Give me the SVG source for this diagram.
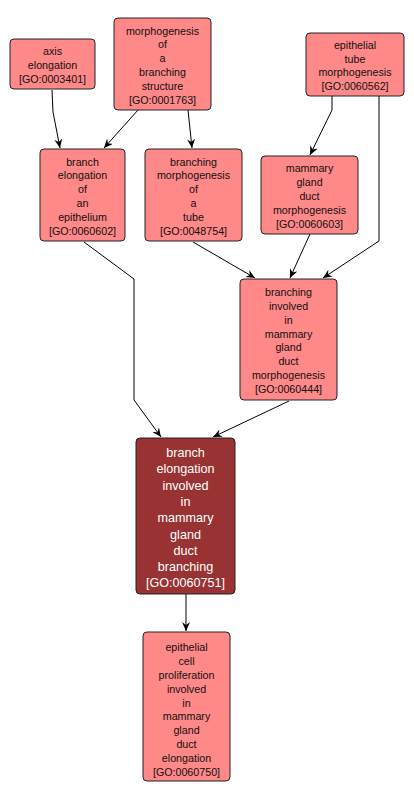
<svg xmlns="http://www.w3.org/2000/svg" width="414" height="801" viewBox="0 0 414 801">
<style>
.n{fill:#ff8888;stroke:#222;stroke-width:1}
.h{fill:#993333;stroke:#222;stroke-width:1}
.t{font-family:"Liberation Sans",Arial,sans-serif;font-size:10.7px;fill:#111;text-anchor:middle}
.tw{font-family:"Liberation Sans",Arial,sans-serif;font-size:12.6px;fill:#fff;text-anchor:middle}
.e{fill:none;stroke:#000;stroke-width:1;marker-end:url(#a)}
</style>
<defs>
<marker id="a" markerWidth="10" markerHeight="8" refX="9" refY="4" orient="auto" markerUnits="userSpaceOnUse">
<path d="M0,0 L9,4 L0,8 L3,4 z" fill="#000"/>
</marker>
</defs>
<rect width="414" height="801" fill="#fff"/>
<g id="edges">
<path class="e" d="M52,90 L53,112 L60,148"/>
<path class="e" d="M138,110 L104,148"/>
<path class="e" d="M188,110 L192,148"/>
<path class="e" d="M332,96 L332,110 L310,155"/>
<path class="e" d="M379,96 L379,241 L323,278"/>
<path class="e" d="M310,234 L290,278"/>
<path class="e" d="M193,242 L255,278"/>
<path class="e" d="M84,242 L134,279 L134,400 L161,437"/>
<path class="e" d="M289,401 L213,437"/>
<path class="e" d="M186,594 L186,631"/>
</g>
<g id="GO0003401">
<rect class="n" x="10" y="39" width="85" height="50" rx="4"/>
<text class="t" x="52.5" y="55">axis</text>
<text class="t" x="52.5" y="69">elongation</text>
<text class="t" x="52.5" y="83">[GO:0003401]</text>
</g>
<g id="GO0001763">
<rect class="n" x="114" y="18" width="97" height="92" rx="4"/>
<text class="t" x="162.5" y="34.5">morphogenesis</text>
<text class="t" x="162.5" y="48.3">of</text>
<text class="t" x="162.5" y="62.1">a</text>
<text class="t" x="162.5" y="75.9">branching</text>
<text class="t" x="162.5" y="89.7">structure</text>
<text class="t" x="162.5" y="103.5">[GO:0001763]</text>
</g>
<g id="GO0060562">
<rect class="n" x="306" y="33" width="98" height="63" rx="4"/>
<text class="t" x="355" y="48.8">epithelial</text>
<text class="t" x="355" y="62.6">tube</text>
<text class="t" x="355" y="76.4">morphogenesis</text>
<text class="t" x="355" y="90.2">[GO:0060562]</text>
</g>
<g id="GO0060602">
<rect class="n" x="40" y="149" width="85" height="92" rx="4"/>
<text class="t" x="82.5" y="165.5">branch</text>
<text class="t" x="82.5" y="179.3">elongation</text>
<text class="t" x="82.5" y="193.1">of</text>
<text class="t" x="82.5" y="206.9">an</text>
<text class="t" x="82.5" y="220.7">epithelium</text>
<text class="t" x="82.5" y="234.5">[GO:0060602]</text>
</g>
<g id="GO0048754">
<rect class="n" x="145" y="149" width="97" height="92" rx="4"/>
<text class="t" x="193.5" y="165.5">branching</text>
<text class="t" x="193.5" y="179.3">morphogenesis</text>
<text class="t" x="193.5" y="193.1">of</text>
<text class="t" x="193.5" y="206.9">a</text>
<text class="t" x="193.5" y="220.7">tube</text>
<text class="t" x="193.5" y="234.5">[GO:0048754]</text>
</g>
<g id="GO0060603">
<rect class="n" x="261" y="156" width="97" height="78" rx="4"/>
<text class="t" x="309.5" y="172.4">mammary</text>
<text class="t" x="309.5" y="186.2">gland</text>
<text class="t" x="309.5" y="200">duct</text>
<text class="t" x="309.5" y="213.8">morphogenesis</text>
<text class="t" x="309.5" y="227.6">[GO:0060603]</text>
</g>
<g id="GO0060444">
<rect class="n" x="240" y="279" width="97" height="121" rx="4"/>
<text class="t" x="288.5" y="296.2">branching</text>
<text class="t" x="288.5" y="310">involved</text>
<text class="t" x="288.5" y="323.8">in</text>
<text class="t" x="288.5" y="337.6">mammary</text>
<text class="t" x="288.5" y="351.4">gland</text>
<text class="t" x="288.5" y="365.2">duct</text>
<text class="t" x="288.5" y="379">morphogenesis</text>
<text class="t" x="288.5" y="392.8">[GO:0060444]</text>
</g>
<g id="GO0060751">
<rect class="h" x="136" y="438" width="99" height="156" rx="4"/>
<text class="tw" x="185.5" y="457">branch</text>
<text class="tw" x="185.5" y="473.3">elongation</text>
<text class="tw" x="185.5" y="489.6">involved</text>
<text class="tw" x="185.5" y="505.9">in</text>
<text class="tw" x="185.5" y="522.2">mammary</text>
<text class="tw" x="185.5" y="538.5">gland</text>
<text class="tw" x="185.5" y="554.8">duct</text>
<text class="tw" x="185.5" y="571.1">branching</text>
<text class="tw" x="185.5" y="587.4">[GO:0060751]</text>
</g>
<g id="GO0060750">
<rect class="n" x="143" y="632" width="87" height="149" rx="4"/>
<text class="t" x="186.5" y="651.4">epithelial</text>
<text class="t" x="186.5" y="665.2">cell</text>
<text class="t" x="186.5" y="679">proliferation</text>
<text class="t" x="186.5" y="692.8">involved</text>
<text class="t" x="186.5" y="706.6">in</text>
<text class="t" x="186.5" y="720.4">mammary</text>
<text class="t" x="186.5" y="734.2">gland</text>
<text class="t" x="186.5" y="748">duct</text>
<text class="t" x="186.5" y="761.8">elongation</text>
<text class="t" x="186.5" y="775.6">[GO:0060750]</text>
</g>
</svg>
